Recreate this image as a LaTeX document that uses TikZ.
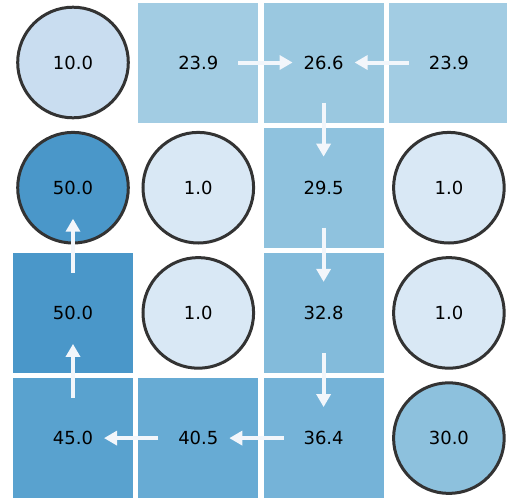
\documentclass[tikz,border=0pt]{standalone}
\usepackage{fontspec}
\setmainfont{DejaVu Sans}
\usetikzlibrary{arrows.meta,calc}
\definecolor{cA}{HTML}{D9E8F5}
\definecolor{cB}{HTML}{C9DDF0}
\definecolor{cC}{HTML}{A2CCE3}
\definecolor{cD}{HTML}{9AC8E0}
\definecolor{cE}{HTML}{8FC2DE}
\definecolor{cF}{HTML}{8DC1DD}
\definecolor{cG}{HTML}{83BBDB}
\definecolor{cH}{HTML}{75B3D8}
\definecolor{cI}{HTML}{67ABD4}
\definecolor{cJ}{HTML}{59A2CF}
\definecolor{cK}{HTML}{4A97C9}
\definecolor{edge}{HTML}{333333}
\definecolor{arrc}{HTML}{F2F6FB}
\tikzset{
  cellsq/.style={rectangle, minimum size=120pt, inner sep=0pt, outer sep=0pt, font=\fontsize{18}{20}\selectfont},
  cellci/.style={circle, minimum size=110.6pt, inner sep=0pt, draw=edge, line width=3pt, font=\fontsize{18}{20}\selectfont},
  flow/.style={draw=arrc, line width=4pt, -{Triangle[length=13pt,width=14pt]}},
}
\newcommand{\fl}[2]{\draw[flow] ($(#1.center)!40pt!(#2.center)$) -- ($(#2.center)!31pt!(#1.center)$);}
\begin{document}
\begin{tikzpicture}[x=1pt,y=-1pt]
\useasboundingbox (0,0) rectangle (507,499);
\def\px#1{73+125.3*#1}
\def\py#1{62.5+125.2*#1}
% row 0
\node[cellci, fill=cB] (n00) at ({\px0},{\py0}) {10.0};
\node[cellsq, fill=cC] (n01) at ({\px1},{\py0}) {23.9};
\node[cellsq, fill=cD] (n02) at ({\px2},{\py0}) {26.6};
\node[cellsq, fill=cC] (n03) at ({\px3},{\py0}) {23.9};
% row 1
\node[cellci, fill=cK] (n10) at ({\px0},{\py1}) {50.0};
\node[cellci, fill=cA] (n11) at ({\px1},{\py1}) {1.0};
\node[cellsq, fill=cE] (n12) at ({\px2},{\py1}) {29.5};
\node[cellci, fill=cA] (n13) at ({\px3},{\py1}) {1.0};
% row 2
\node[cellsq, fill=cK] (n20) at ({\px0},{\py2}) {50.0};
\node[cellci, fill=cA] (n21) at ({\px1},{\py2}) {1.0};
\node[cellsq, fill=cG] (n22) at ({\px2},{\py2}) {32.8};
\node[cellci, fill=cA] (n23) at ({\px3},{\py2}) {1.0};
% row 3
\node[cellsq, fill=cJ] (n30) at ({\px0},{\py3}) {45.0};
\node[cellsq, fill=cI] (n31) at ({\px1},{\py3}) {40.5};
\node[cellsq, fill=cH] (n32) at ({\px2},{\py3}) {36.4};
\node[cellci, fill=cF] (n33) at ({\px3},{\py3}) {30.0};
% flows
\fl{n01}{n02}
\fl{n03}{n02}
\fl{n02}{n12}
\fl{n12}{n22}
\fl{n22}{n32}
\fl{n32}{n31}
\fl{n31}{n30}
\fl{n30}{n20}
\fl{n20}{n10}
\end{tikzpicture}
\end{document}
